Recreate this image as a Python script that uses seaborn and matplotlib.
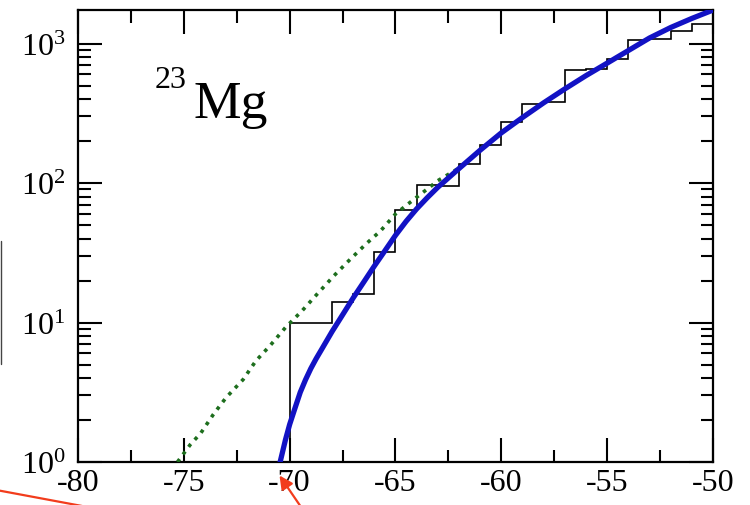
import numpy as np
import matplotlib
matplotlib.use("Agg")
import matplotlib.pyplot as plt
import seaborn as sns
from matplotlib.ticker import LogLocator, MultipleLocator, NullFormatter
from matplotlib.patches import FancyArrowPatch
from matplotlib.lines import Line2D

# ---------------- data ----------------
bin_edges = [-70, -69, -68, -67, -66, -65, -64, -63, -62, -61, -60,
             -59, -58, -57, -56, -55, -54, -53, -52, -51, -50]
bin_counts = [10, 10, 14, 16, 32, 64, 97, 95, 137, 186, 275,
              370, 380, 650, 660, 780, 1060, 1080, 1240, 1390]

curve_x = [-70.55, -70.45, -70.2, -70.0, -69.75, -69.5, -69.25, -69.0, -68.75, -68.5,
           -68.0, -67.5, -67.0, -66.5, -66.0, -65.5, -65.0, -64.5, -64.0, -63.5,
           -63.0, -62.0, -61.0, -60.0, -59.0, -58.0, -57.0, -56.0, -55.0, -54.0,
           -53.0, -52.0, -51.0, -50.0]
curve_y = [0.86, 1.0, 1.44, 1.86, 2.43, 3.16, 3.89, 4.68, 5.50, 6.38,
           8.6, 11.35, 15.0, 19.5, 25.4, 32.7, 42.2, 53.1, 65.3, 78.5,
           93.3, 127, 172, 229, 295, 376, 473, 589, 724, 891,
           1096, 1303, 1514, 1738]

fit_x = [-75.3, -74.7, -74.2, -73.6, -73.0, -72.2, -71.6, -70.9, -70.2,
         -69.4, -68.7, -67.9, -67.2, -66.4, -65.7, -65.0, -64.1, -63.4, -63.0, -62.0]
fit_y = [1.0, 1.33, 1.61, 2.2, 2.9, 3.9, 5.3, 6.9, 9.2,
         12.2, 16, 21.7, 27.8, 36.5, 45.5, 60, 77, 93, 104, 128]

x_ticks = [-80, -75, -70, -65, -60, -55, -50]
x_labels = ["-80", "-75", "-70", "-65", "-60", "-55", "-50"]
mass_number = "23"
element = "Mg"

# ---------------- style ----------------
sns.set_theme(style="ticks")
plt.rcParams['font.family'] = ['Liberation Serif', 'DejaVu Serif']
plt.rcParams['mathtext.fontset'] = 'stix'
plt.rcParams['axes.unicode_minus'] = False

W, H = 750, 506
fig = plt.figure(figsize=(W / 100, H / 100), dpi=100)
fig.patch.set_facecolor('white')
ax = fig.add_axes([78 / W, (H - 463) / H, (713 - 78) / W, (463 - 11) / H])
ax.set_facecolor('white')
ax.set_yscale('log')

# histogram (step outline)
ax.stairs(bin_counts, bin_edges, baseline=0, color='black', lw=1.2, zorder=2)

# dotted green line
sns.lineplot(x=fit_x, y=fit_y, ax=ax, color='#1d6e1d', lw=2.6,
             sort=False, estimator=None, zorder=3)
ax.lines[-1].set_linestyle((0, (1, 1.6)))

# thick blue curve
sns.lineplot(x=curve_x, y=curve_y, ax=ax, color='#1212c4', lw=3.8,
             sort=False, estimator=None, zorder=4)
ax.lines[-1].set_solid_joinstyle('round')

ax.set_xlim(-80, -50)
ax.set_ylim(1, 1740)
ax.set_xticks(x_ticks, labels=x_labels)
ax.xaxis.set_minor_locator(MultipleLocator(2.5))
ax.yaxis.set_major_locator(LogLocator(base=10, numticks=10))
ax.yaxis.set_minor_locator(LogLocator(base=10, subs=np.arange(2, 10), numticks=30))
ax.yaxis.set_minor_formatter(NullFormatter())
ax.set_xlabel("")
ax.set_ylabel("")
ax.grid(False)

ax.tick_params(which='both', direction='in', top=True, right=True,
               color='black', width=1.5, labelsize=23, labelcolor='black')
ax.tick_params(which='major', length=17)
ax.tick_params(which='minor', length=9)
ax.tick_params(axis='x', pad=4)
ax.tick_params(axis='y', pad=9)
for s in ax.spines.values():
    s.set_visible(True)
    s.set_linewidth(1.6)
    s.set_color('black')

# nucleus label
fig.text(155 / W, 1 - 88 / H, mass_number, fontsize=23, va='baseline', ha='left', color='black')
fig.text(193 / W, 1 - 118 / H, element, fontsize=38.5, va='baseline', ha='left', color='black')

# cropped decorations from the source image
red = '#f23c1c'
fig.add_artist(Line2D([0, 82 / W], [1 - 491.7 / H, 1 - 507 / H], transform=fig.transFigure,
                      color=red, lw=1.6))
arrow = FancyArrowPatch(posA=(301 / W, 1 - 508 / H), posB=(279.5 / W, 1 - 476.5 / H),
                        transform=fig.transFigure, arrowstyle='-|>', mutation_scale=20,
                        color=red, lw=1.6, shrinkA=0, shrinkB=0)
fig.add_artist(arrow)
fig.add_artist(Line2D([0.8 / W, 0.8 / W], [1 - 242 / H, 1 - 365 / H], transform=fig.transFigure,
                      color='#444444', lw=1.0))

fig.savefig("out.png", dpi=100)
